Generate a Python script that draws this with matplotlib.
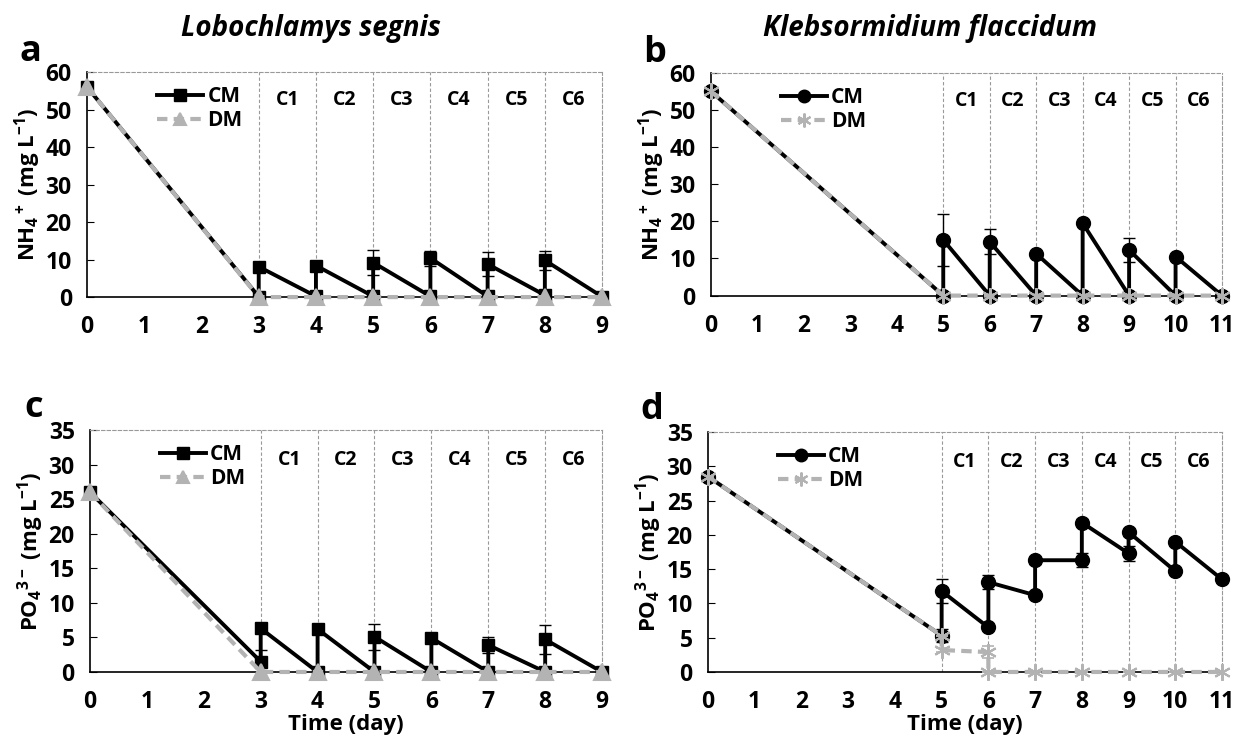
import numpy as np
import matplotlib
matplotlib.use('Agg')
import matplotlib.pyplot as plt
from matplotlib.lines import Line2D

plt.rcParams['font.family'] = ['Open Sans', 'DejaVu Sans']
plt.rcParams['font.weight'] = 'bold'
plt.rcParams['mathtext.fontset'] = 'custom'
plt.rcParams['mathtext.rm'] = 'Open Sans:bold'
plt.rcParams['mathtext.bf'] = 'Open Sans:bold'
plt.rcParams['mathtext.it'] = 'Open Sans:bold'

# Panel a: Lobochlamys segnis, NH4+
a_cm_x = [0, 3, 3, 4, 4, 5, 5, 6, 6, 7, 7, 8, 8, 9]
a_cm_y = [56, 0.1, 8.1, 0.2, 8.4, 0.2, 9.2, 0.2, 10.4, 0.2, 8.8, 0.5, 9.8, 0.1]
a_cm_err = [0, 0, 0.6, 0, 0.4, 0, 3.3, 0, 2.0, 0, 3.1, 0, 2.5, 0]
a_dm_x = [0, 3, 4, 5, 6, 7, 8, 9]
a_dm_y = [56, 0, 0, 0, 0, 0, 0, 0]

# Panel b: Klebsormidium flaccidum, NH4+
b_cm_x = [0, 5, 5, 6, 6, 7, 7, 8, 8, 9, 9, 10, 10, 11]
b_cm_y = [55, 0, 15.0, 0, 14.5, 0, 11.3, 0, 19.5, 0, 12.3, 0, 10.5, 0]
b_cm_err = [0, 0, 7.0, 0, 3.4, 0, 0.5, 0, 0.5, 0, 3.2, 0, 0.4, 0]
b_dm_x = [0, 5, 6, 7, 8, 9, 10, 11]
b_dm_y = [55, 0, 0, 0, 0, 0, 0, 0]

# Panel c: Lobochlamys segnis, PO4 3-
c_cm_x = [0, 3, 3, 4, 4, 5, 5, 6, 6, 7, 7, 8, 8, 9]
c_cm_y = [26, 1.5, 6.3, 0, 6.2, 0, 5.1, 0, 4.9, 0, 3.9, 0, 4.7, 0]
c_cm_err = [0, 1.7, 0.5, 0, 0.3, 0, 1.9, 0, 0.3, 0, 1.1, 0, 2.1, 0]
c_dm_x = [0, 3, 4, 5, 6, 7, 8, 9]
c_dm_y = [26, 0, 0, 0, 0, 0, 0, 0]

# Panel d: Klebsormidium flaccidum, PO4 3-
d_cm_x = [0, 5, 5, 6, 6, 7, 7, 8, 8, 9, 9, 10, 10, 11]
d_cm_y = [28.5, 5.3, 11.8, 6.5, 13.1, 11.2, 16.3, 16.3, 21.8, 17.3, 20.4, 14.7, 19.0, 13.5]
d_cm_err = [0, 1.0, 1.8, 0.3, 1.0, 0.3, 0.5, 1.0, 0.5, 1.1, 0.5, 0.3, 0.5, 0.3]
d_dm_x = [0, 5, 5, 6, 6, 7, 8, 9, 10, 11]
d_dm_y = [28.5, 5.3, 3.2, 2.9, 0, 0, 0, 0, 0, 0]
d_dm_err = [0, 0, 0.3, 0.9, 0, 0, 0, 0, 0, 0]

cycle_labels = ['C1', 'C2', 'C3', 'C4', 'C5', 'C6']
species = ['Lobochlamys segnis', 'Klebsormidium flaccidum']

nh4_label = r'NH$_4$$^+$ (mg L$^{-1}$)'
po4_label = r'PO$_4$$^{3-}$ (mg L$^{-1}$)'

GREY = '#b3b3b3'
fig = plt.figure(figsize=(12.33, 7.39), dpi=100)


def panel(rect, cm_x, cm_y, cm_err, dm_x, dm_y, dm_err, cm_marker, dm_marker,
          start, xmax, ymax, ystep, ylabel, letter, xlabel=None):
    ax = fig.add_axes(rect)
    # cycle separators
    for xv in range(start, xmax):
        ax.axvline(xv, color='#999999', lw=0.8, ls=(0, (3, 2)), zorder=1)
    for i, lab in enumerate(cycle_labels):
        ax.text(start + i + 0.5, ymax * 0.875, lab, ha='center', va='center',
                fontsize=14, fontweight='bold')
    ms_cm = 9 if cm_marker == 's' else 10
    ms_dm = 11 if dm_marker == '^' else 12
    dm_ls = (0, (2.5, 1.5))
    ax.errorbar(cm_x, cm_y, yerr=cm_err, fmt='none', ecolor='black',
                elinewidth=1, capsize=4, capthick=1, zorder=3)
    ax.plot(cm_x, cm_y, color='black', lw=2.8, marker=cm_marker, ms=ms_cm,
            zorder=3, clip_on=False)
    if dm_err is not None:
        ax.errorbar(dm_x, dm_y, yerr=dm_err, fmt='none', ecolor=GREY,
                    elinewidth=1.2, capsize=4, capthick=1.2, zorder=4)
    ax.plot(dm_x, dm_y, color=GREY, lw=3, ls=dm_ls, marker=dm_marker, ms=ms_dm,
            mew=1.5, zorder=4, clip_on=False)
    ax.set_xlim(0, xmax)
    ax.set_ylim(0, ymax)
    ax.set_xticks(range(0, xmax + 1))
    ax.set_yticks(np.arange(0, ymax + 1, ystep))
    ax.tick_params(axis='x', length=0, pad=13, labelsize=16.5)
    ax.tick_params(axis='y', direction='in', length=5, pad=11, labelsize=16.5)
    for s in ['top', 'right']:
        ax.spines[s].set_linestyle((0, (3, 2)))
        ax.spines[s].set_color('#999999')
        ax.spines[s].set_linewidth(0.8)
    for s in ['left', 'bottom']:
        ax.spines[s].set_color('black')
        ax.spines[s].set_linewidth(1.2)
    ax.set_ylabel(ylabel, fontsize=16, fontweight='bold', labelpad=2)
    if xlabel:
        ax.set_xlabel(xlabel, fontsize=16, fontweight='bold', labelpad=0)
    ax.text(-0.11, 1.09, letter, transform=ax.transAxes, fontsize=26,
            fontweight='bold', ha='center', va='center')
    handles = [
        Line2D([], [], color='black', lw=2.8, marker=cm_marker, ms=ms_cm - 1),
        Line2D([], [], color=GREY, lw=3, ls=dm_ls, marker=dm_marker, ms=ms_dm - 2,
               mew=1.5),
    ]
    ax.legend(handles, ['CM', 'DM'], loc='upper left', bbox_to_anchor=(0.1, 1.02),
              frameon=False, fontsize=15, handlelength=2.2, handletextpad=0.2,
              labelspacing=0.15)
    return ax


panel([0.0706, 0.598, 0.4177, 0.3045], a_cm_x, a_cm_y, a_cm_err, a_dm_x, a_dm_y,
      None, 's', '^', 3, 9, 60, 10, nh4_label, 'a')
panel([0.5766, 0.600, 0.4145, 0.3015], b_cm_x, b_cm_y, b_cm_err, b_dm_x, b_dm_y,
      None, 'o', (6, 2, 0), 5, 11, 60, 10, nh4_label, 'b')
panel([0.0730, 0.0907, 0.4153, 0.3275], c_cm_x, c_cm_y, c_cm_err, c_dm_x, c_dm_y,
      None, 's', '^', 3, 9, 35, 5, po4_label, 'c', xlabel='Time (day)')
panel([0.5742, 0.0907, 0.4169, 0.3247], d_cm_x, d_cm_y, d_cm_err, d_dm_x, d_dm_y,
      d_dm_err, 'o', (6, 2, 0), 5, 11, 35, 5, po4_label, 'd', xlabel='Time (day)')

fig.text(0.252, 0.962, species[0], ha='center', va='center', fontsize=20,
         fontweight='bold', style='italic')
fig.text(0.754, 0.962, species[1], ha='center', va='center', fontsize=20,
         fontweight='bold', style='italic')

fig.savefig('out.png', dpi=100)
